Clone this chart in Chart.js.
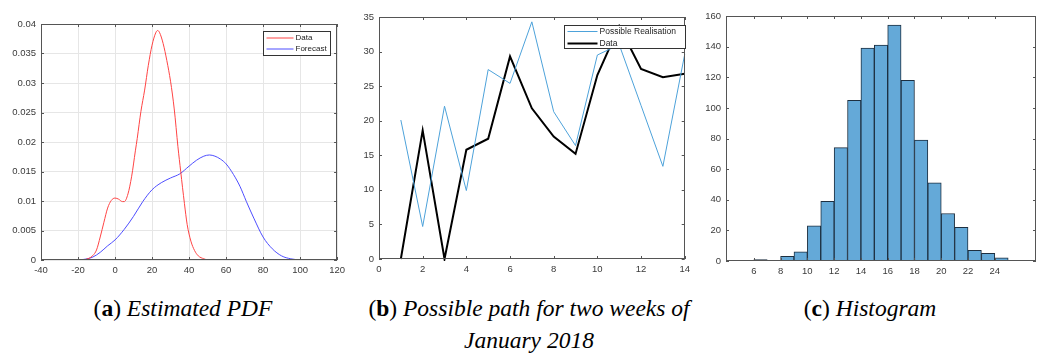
<!DOCTYPE html>
<html>
<head>
<meta charset="utf-8">
<script src="https://cdn.jsdelivr.net/npm/chart.js@4/dist/chart.umd.min.js"></script>
<style>
  body { margin: 0; background: #fff; }
  #wrap { position: relative; width: 1045px; height: 356px; overflow: hidden; }
  canvas { position: absolute; top: 0; }
  .cap { position: absolute; text-align: center; font-family: "Liberation Serif", serif; font-size: 23.5px; line-height: 32px; color: #000; white-space: nowrap; }
  .cap i { font-style: italic; }
</style>
</head>
<body>
<div id="wrap">
  <canvas id="pdf" width="350" height="290" style="left:0px"></canvas>
  <canvas id="path" width="345" height="290" style="left:350px"></canvas>
  <canvas id="hist" width="350" height="290" style="left:695px"></canvas>
  <div class="cap" style="left:33px; width:300px; top:292px">(<b>a</b>) <i>Estimated PDF</i></div>
  <div class="cap" style="left:329px; width:400px; top:292px">(<b>b</b>) <i>Possible path for two weeks of<br>January 2018</i></div>
  <div class="cap" style="left:720px; width:300px; top:292px">(<b>c</b>) <i>Histogram</i></div>
</div>
<script>
/* (a) estimated densities */
const pdfDataX = [-17, -14, -12, -10, -8, -6, -4, -2, 0, 2, 4, 5, 7, 9, 11, 12, 14, 16, 18, 20, 22, 23, 24, 26, 28, 30, 32, 34, 35.5, 37.5, 39, 41, 43, 45, 48, 50];
const pdfDataY = [0, 0.0003, 0.00075, 0.0017, 0.0039, 0.0064, 0.0088, 0.0101, 0.0105, 0.0103, 0.0099, 0.0099, 0.0112, 0.0142, 0.0185, 0.0206, 0.0252, 0.0288, 0.0330, 0.0364, 0.0385, 0.0389, 0.0386, 0.0367, 0.0338, 0.0303, 0.0256, 0.0192, 0.0150, 0.0096, 0.0060, 0.0032, 0.0016, 0.0007, 0.0002, 0];
const pdfFcX = [-23.5, -17, -12, -8, -4, 0, 5, 10, 15, 20, 25, 30, 35, 40, 44, 48, 51, 54, 57, 60, 64, 67.5, 71, 75, 80, 85, 90, 95, 100];
const pdfFcY = [0, 0.0001, 0.0005, 0.0013, 0.0024, 0.0034, 0.0052, 0.0074, 0.0099, 0.0119, 0.0131, 0.0139, 0.0146, 0.0159, 0.0169, 0.0176, 0.0178, 0.0176, 0.0171, 0.0163, 0.0145, 0.0125, 0.0099, 0.0071, 0.0039, 0.0019, 0.0007, 0.0002, 0];
const pdfTicksX = [-40, -20, 0, 20, 40, 60, 80, 100, 120];
const pdfTicksY = [0, 0.005, 0.01, 0.015, 0.02, 0.025, 0.03, 0.035, 0.04];

/* (b) two weeks of January 2018 */
const days = [1, 2, 3, 4, 5, 6, 7, 8, 9, 10, 11, 12, 13, 14];
const realisation = [20.1, 4.7, 22.1, 9.9, 27.4, 25.4, 34.3, 21.3, 16.4, 29.5, 31.0, 22.2, 13.4, 29.6];
const observed = [0, 18.6, 0, 15.8, 17.4, 29.3, 21.8, 17.7, 15.2, 26.6, 33.7, 27.5, 26.3, 26.8];
const pathTicksX = [0, 2, 4, 6, 8, 10, 12, 14];
const pathTicksY = [0, 5, 10, 15, 20, 25, 30, 35];

/* (c) histogram, bins of width 1 from 6 to 25 */
const binCentres = [6.5, 7.5, 8.5, 9.5, 10.5, 11.5, 12.5, 13.5, 14.5, 15.5, 16.5, 17.5, 18.5, 19.5, 20.5, 21.5, 22.5, 23.5, 24.5];
const binCounts = [1, 0, 3, 6, 23, 39, 74, 105, 139, 141, 154, 118, 79, 51, 31, 22, 7, 5, 2];
const histTicksX = [6, 8, 10, 12, 14, 16, 18, 20, 22, 24];
const histTicksY = [0, 20, 40, 60, 80, 100, 120, 140, 160];

const zip = (xs, ys) => xs.map((x, i) => ({x: x, y: ys[i]}));

// box, inward ticks and an in-axes legend, the way the original figures look
const matlabAxes = {
    id: 'matlabAxes',
    afterDatasetsDraw(chart, args, opts) {
        const ctx = chart.ctx;
        const a = chart.chartArea;
        const sx = chart.scales.x, sy = chart.scales.y;
        ctx.save();
        ctx.strokeStyle = '#555';
        ctx.lineWidth = 1;
        ctx.strokeRect(Math.round(a.left) + 0.5, Math.round(a.top) + 0.5, Math.round(a.width) - 1, Math.round(a.height) - 1);
        ctx.beginPath();
        const len = 3;
        sx.ticks.forEach(t => {
            const p = Math.round(sx.getPixelForValue(t.value)) + 0.5;
            ctx.moveTo(p, a.bottom); ctx.lineTo(p, a.bottom - len);
            ctx.moveTo(p, a.top); ctx.lineTo(p, a.top + len);
        });
        sy.ticks.forEach(t => {
            const p = Math.round(sy.getPixelForValue(t.value)) + 0.5;
            ctx.moveTo(a.left, p); ctx.lineTo(a.left + len, p);
            ctx.moveTo(a.right, p); ctx.lineTo(a.right - len, p);
        });
        ctx.stroke();

        if (opts.legend) {
            const L = opts.legend;
            const bx = Math.round(a.right - L.right - L.w) + 0.5;
            const by = Math.round(a.top + L.top) + 0.5;
            ctx.fillStyle = '#fff';
            ctx.fillRect(bx, by, L.w, L.h);
            ctx.strokeStyle = '#333';
            ctx.strokeRect(bx, by, L.w, L.h);
            ctx.font = L.size + 'px "Liberation Sans", Arial, sans-serif';
            ctx.textBaseline = 'middle';
            chart.data.datasets.forEach((ds, i) => {
                const yy = by + L.first + i * L.row;
                ctx.strokeStyle = ds.borderColor;
                ctx.lineWidth = ds.borderWidth;
                ctx.beginPath();
                ctx.moveTo(bx + 3, yy); ctx.lineTo(bx + 3 + L.line, yy);
                ctx.stroke();
                ctx.fillStyle = '#222';
                ctx.fillText(ds.label, bx + L.line + 5, yy);
            });
        }
        ctx.restore();
    }
};

function axis(min, max, ticks, opts) {
    return {
        type: 'linear',
        min: min,
        max: max,
        afterBuildTicks: s => { s.ticks = ticks.map(v => ({value: v})); },
        afterFit: s => {
            if (opts.width !== undefined) s.width = opts.width;
            if (opts.height !== undefined) s.height = opts.height;
        },
        grid: { display: !!opts.grid, color: '#e6e6e6', drawTicks: false },
        border: { display: false },
        ticks: {
            color: '#3a3a3a',
            padding: 5,
            autoSkip: false,
            maxRotation: 0,
            font: { family: '"Liberation Sans", Arial, sans-serif', size: 9.5 },
            callback: v => String(+v.toFixed(3))
        }
    };
}

const common = {
    responsive: false,
    animation: false,
    events: [],
    plugins: { legend: { display: false }, tooltip: { enabled: false } }
};

new Chart(document.getElementById('pdf'), {
    type: 'scatter',
    data: {
        datasets: [
            { label: 'Data', data: zip(pdfDataX, pdfDataY), borderColor: '#ff4444', borderWidth: 1,
              showLine: true, pointRadius: 0, cubicInterpolationMode: 'monotone' },
            { label: 'Forecast', data: zip(pdfFcX, pdfFcY), borderColor: '#4d4dff', borderWidth: 1,
              showLine: true, pointRadius: 0, cubicInterpolationMode: 'monotone' }
        ]
    },
    options: Object.assign({}, common, {
        layout: { padding: { top: 24, right: 9, left: 0, bottom: 0 } },
        scales: {
            x: axis(-40, 120, pdfTicksX, { height: 30, grid: true }),
            y: axis(0, 0.04, pdfTicksY, { width: 41, grid: true })
        },
        plugins: Object.assign({}, common.plugins, {
            matlabAxes: { legend: { right: 7, top: 7, w: 67, h: 24, first: 6.5, row: 11, line: 27, size: 8 } }
        })
    }),
    plugins: [matlabAxes]
});

new Chart(document.getElementById('path'), {
    type: 'scatter',
    data: {
        datasets: [
            { label: 'Possible Realisation', data: zip(days, realisation), borderColor: '#4da2da', borderWidth: 1,
              showLine: true, pointRadius: 0, clip: 2 },
            { label: 'Data', data: zip(days, observed), borderColor: '#000000', borderWidth: 2,
              showLine: true, pointRadius: 0, clip: 2 }
        ]
    },
    options: Object.assign({}, common, {
        layout: { padding: { top: 17, right: 9, left: 0, bottom: 0 } },
        scales: {
            x: axis(0, 14, pathTicksX, { height: 31 }),
            y: axis(0, 35, pathTicksY, { width: 29 })
        },
        plugins: Object.assign({}, common.plugins, {
            matlabAxes: { legend: { right: 0, top: 8, w: 121, h: 23, first: 6, row: 12, line: 30, size: 8.5 } }
        })
    }),
    plugins: [matlabAxes]
});

new Chart(document.getElementById('hist'), {
    type: 'bar',
    data: {
        datasets: [
            { label: 'Histogram', data: zip(binCentres, binCounts), backgroundColor: '#64a9d8',
              borderColor: '#1d2f40', borderWidth: 1, borderSkipped: false,
              barPercentage: 1, categoryPercentage: 1 }
        ]
    },
    options: Object.assign({}, common, {
        layout: { padding: { top: 16, right: 9, left: 0, bottom: 0 } },
        scales: {
            x: axis(5.08, 25.92, histTicksX, { height: 29 }),
            y: axis(0, 160, histTicksY, { width: 31 })
        },
        plugins: Object.assign({}, common.plugins, { matlabAxes: {} })
    }),
    plugins: [matlabAxes]
});
</script>
</body>
</html>
